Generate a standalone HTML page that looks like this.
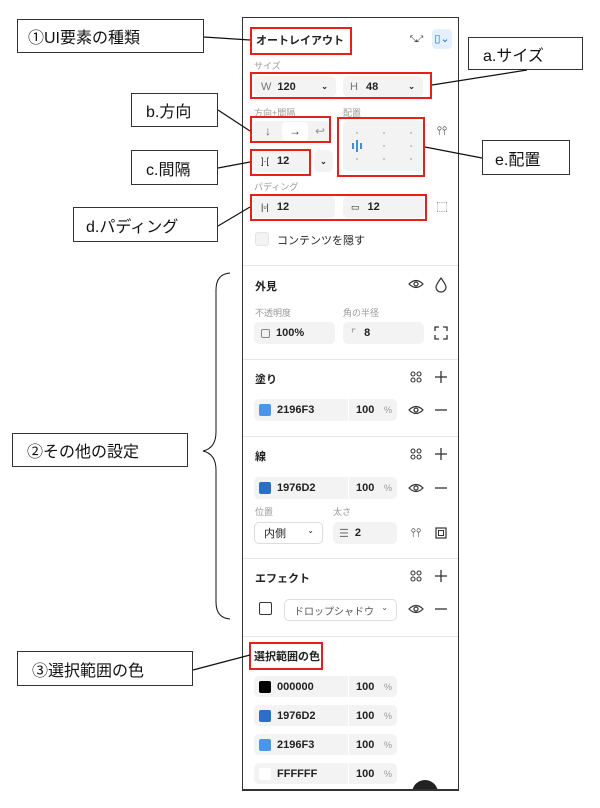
<!DOCTYPE html>
<html><head><meta charset="utf-8"><style>
*{box-sizing:border-box;margin:0;padding:0}
body{width:600px;height:808px;background:#fff;position:relative;overflow:hidden;font-family:"Liberation Sans","Noto Sans CJK JP",sans-serif;color:#222}
.a{position:absolute}
.box{position:absolute;border:1.3px solid #333;background:#fff;font-size:15px;display:flex;align-items:center;padding-left:14px;color:#111}
.red{position:absolute;border:2.5px solid #e8201a}
.f{position:absolute;background:#f3f3f3;border-radius:5px;font-size:11px;font-weight:bold;display:flex;align-items:center;color:#222}
.lb{position:absolute;font-size:9px;color:#999}
.h{position:absolute;font-size:11px;font-weight:bold}
.ic{position:absolute;font-size:14px;color:#333;transform:translate(-50%,-50%)}
.hr{position:absolute;left:243px;width:215px;height:1px;background:#e6e6e6}
.sw{position:absolute;width:12px;height:12px;border-radius:2px}
.pct{position:absolute;font-size:9px;color:#999}
.sep{position:absolute;width:1px;background:#fff}
.dd{position:absolute;height:22px;border:1px solid #ddd;border-radius:5px;font-size:11px;display:flex;align-items:center;padding-left:9px}
.dd i{position:absolute;right:8px;top:3px;font-size:8px;font-style:normal}
</style></head><body>
<div class="a" style="left:242px;top:17px;width:217px;height:774px;border:1.5px solid #333"></div>

<div class="h" style="left:256px;top:32px">オートレイアウト</div>
<div class="ic" style="left:416px;top:39px;font-size:9px;letter-spacing:-1px">⤡⤢</div>
<div class="a" style="left:432px;top:29px;width:20px;height:20px;background:#e4f0fd;border-radius:4px;color:#1976d2;font-size:11px;text-align:center;line-height:20px">▯⌄</div>

<div class="lb" style="left:254px;top:59px">サイズ</div>
<div class="f" style="left:254px;top:76px;width:82px;height:21px;padding-left:7px"><span style="color:#777;font-weight:normal;margin-right:6px">W</span>120<span style="margin-left:auto;margin-right:8px;font-size:8px">⌄</span></div>
<div class="f" style="left:343px;top:76px;width:80px;height:21px;padding-left:7px"><span style="color:#777;font-weight:normal;margin-right:8px">H</span>48<span style="margin-left:auto;margin-right:8px;font-size:8px">⌄</span></div>

<div class="lb" style="left:254px;top:106px">方向+間隔</div>
<div class="f" style="left:253px;top:121px;width:77px;height:21px"></div>
<div class="a" style="left:282px;top:122px;width:26px;height:19px;background:#fff;border-radius:4px"></div>
<div class="ic" style="left:268px;top:131px;font-size:12px;color:#666">↓</div>
<div class="ic" style="left:295px;top:131px;font-size:12px">→</div>
<div class="ic" style="left:320px;top:131px;font-size:12px;color:#999">↩</div>
<div class="f" style="left:253px;top:150px;width:57px;height:22px;padding-left:8px"><span style="font-weight:normal;margin-right:8px;font-size:9px">]·[</span>12</div>
<div class="f" style="left:314px;top:150px;width:19px;height:22px;justify-content:center;font-size:8px">⌄</div>

<div class="lb" style="left:343px;top:106px">配置</div>
<div class="f" style="left:343px;top:121px;width:82px;height:50px"></div>
<svg class="a" style="left:343px;top:121px" width="82" height="50">
<g fill="#aaa"><circle cx="14" cy="12" r="0.9"/><circle cx="41" cy="12" r="0.9"/><circle cx="68" cy="12" r="0.9"/><circle cx="41" cy="25" r="0.9"/><circle cx="68" cy="25" r="0.9"/><circle cx="14" cy="38" r="0.9"/><circle cx="41" cy="38" r="0.9"/><circle cx="68" cy="38" r="0.9"/></g>
<g stroke="#1976d2" stroke-width="1.6"><line x1="10" y1="22" x2="10" y2="28"/><line x1="14" y1="19" x2="14" y2="31"/><line x1="18" y1="22" x2="18" y2="28"/></g>
</svg>
<div class="ic" style="left:442px;top:131px;font-size:12px">⫯⫯</div>

<div class="lb" style="left:254px;top:180px">パディング</div>
<div class="f" style="left:253px;top:196px;width:82px;height:22px;padding-left:8px"><span style="font-weight:normal;margin-right:8px;font-size:9px">|▫|</span>12</div>
<div class="f" style="left:343px;top:196px;width:82px;height:22px;padding-left:8px"><span style="font-weight:normal;margin-right:8px;font-size:9px">▭</span>12</div>
<div class="ic" style="left:442px;top:207px;font-size:11px">⬚</div>

<div class="a" style="left:255px;top:232px;width:14px;height:14px;background:#f3f3f3;border-radius:3px;border:1px solid #e4e4e4"></div>
<div class="a" style="left:277px;top:232px;font-size:11px">コンテンツを隠す</div>

<svg class="a" style="left:0;top:0" width="600" height="808">
<defs><g id="d4" fill="none" stroke="#333" stroke-width="1.1"><circle cx="-3" cy="-3" r="2"/><circle cx="3" cy="-3" r="2"/><circle cx="-3" cy="3" r="2"/><circle cx="3" cy="3" r="2"/></g>
<g id="pl" stroke="#333" stroke-width="1.3"><line x1="-6" y1="0" x2="6" y2="0"/><line x1="0" y1="-6" x2="0" y2="6"/></g>
<g id="mi" stroke="#333" stroke-width="1.3"><line x1="-6" y1="0" x2="6" y2="0"/></g>
<g id="ey" fill="none" stroke="#333" stroke-width="1.2"><path d="M-7 0 Q0 -7 7 0 Q0 7 -7 0Z"/><circle r="2"/></g></defs>
<use href="#ey" x="416" y="284"/>
<path d="M441 278 Q446 285 446 287 A5 5 0 0 1 436 287 Q436 285 441 278Z" fill="none" stroke="#333" stroke-width="1.2"/>
<g fill="none" stroke="#333" stroke-width="1.3"><path d="M437 331 v-4 h4 M445 327 h4 v4 M437 335 v4 h4 M449 335 v4 h-4" transform="translate(-2,0)"/></g>
<use href="#d4" x="416" y="377"/><use href="#pl" x="441" y="377"/>
<use href="#ey" x="416" y="410"/><use href="#mi" x="441" y="410"/>
<use href="#d4" x="416" y="454"/><use href="#pl" x="441" y="454"/>
<use href="#ey" x="416" y="488"/><use href="#mi" x="441" y="488"/>
<use href="#d4" x="416" y="576"/><use href="#pl" x="441" y="576"/>
<use href="#ey" x="416" y="609"/><use href="#mi" x="441" y="609"/>
<rect x="436" y="528" width="10" height="10" fill="none" stroke="#333" stroke-width="1.2"/><rect x="438.5" y="530.5" width="5" height="5" fill="none" stroke="#333" stroke-width="1"/>
</svg>

<div class="hr" style="top:265px"></div>
<div class="h" style="left:255px;top:278px">外見</div>
<div class="lb" style="left:255px;top:306px">不透明度</div>
<div class="lb" style="left:343px;top:306px">角の半径</div>
<div class="f" style="left:254px;top:322px;width:81px;height:22px;padding-left:7px"><span style="display:inline-block;width:9px;height:9px;border:1px solid #888;border-radius:2px;margin-right:6px"></span>100%</div>
<div class="f" style="left:343px;top:322px;width:81px;height:22px;padding-left:8px"><span style="font-weight:normal;color:#888;margin-right:8px">⌜</span>8</div>

<div class="hr" style="top:359px"></div>
<div class="h" style="left:255px;top:371px">塗り</div>
<div class="f" style="left:254px;top:399px;width:143px;height:22px"></div>
<div class="sw" style="left:259px;top:404px;background:#4a96ee"></div>
<div class="a" style="left:277px;top:404px;font-size:11px;font-weight:bold">2196F3</div>
<div class="sep" style="left:348px;top:399px;height:22px"></div>
<div class="a" style="left:356px;top:404px;font-size:11px;font-weight:bold">100</div>
<div class="pct" style="left:384px;top:405px">%</div>

<div class="hr" style="top:436px"></div>
<div class="h" style="left:255px;top:448px">線</div>
<div class="f" style="left:254px;top:477px;width:143px;height:22px"></div>
<div class="sw" style="left:259px;top:482px;background:#2a6fcb"></div>
<div class="a" style="left:277px;top:482px;font-size:11px;font-weight:bold">1976D2</div>
<div class="sep" style="left:348px;top:477px;height:22px"></div>
<div class="a" style="left:356px;top:482px;font-size:11px;font-weight:bold">100</div>
<div class="pct" style="left:384px;top:483px">%</div>
<div class="lb" style="left:255px;top:505px">位置</div>
<div class="lb" style="left:333px;top:505px">太さ</div>
<div class="dd" style="left:254px;top:522px;width:69px">内側<i>⌄</i></div>
<div class="f" style="left:333px;top:522px;width:64px;height:22px;padding-left:6px"><span style="font-weight:normal;color:#777;margin-right:6px">☰</span>2</div>
<div class="ic" style="left:416px;top:533px;font-size:12px">⫯⫯</div>

<div class="hr" style="top:558px"></div>
<div class="h" style="left:255px;top:570px">エフェクト</div>
<div class="a" style="left:259px;top:602px;width:13px;height:13px;border:1.3px solid #333;border-radius:2px"></div>
<div class="dd" style="left:284px;top:599px;width:113px;font-size:10px;color:#555">ドロップシャドウ<i>⌄</i></div>

<div class="hr" style="top:636px"></div>
<div class="h" style="left:254px;top:648px">選択範囲の色</div>

<div class="f" style="left:254px;top:676px;width:143px;height:21px"></div>
<div class="sw" style="left:259px;top:681px;background:#000"></div>
<div class="a" style="left:277px;top:681px;font-size:11px;font-weight:bold">000000</div>
<div class="sep" style="left:348px;top:676px;height:21px"></div>
<div class="a" style="left:356px;top:681px;font-size:11px;font-weight:bold">100</div><div class="pct" style="left:384px;top:682px">%</div>

<div class="f" style="left:254px;top:705px;width:143px;height:21px"></div>
<div class="sw" style="left:259px;top:710px;background:#2a6fcb"></div>
<div class="a" style="left:277px;top:710px;font-size:11px;font-weight:bold">1976D2</div>
<div class="sep" style="left:348px;top:705px;height:21px"></div>
<div class="a" style="left:356px;top:710px;font-size:11px;font-weight:bold">100</div><div class="pct" style="left:384px;top:711px">%</div>

<div class="f" style="left:254px;top:734px;width:143px;height:21px"></div>
<div class="sw" style="left:259px;top:739px;background:#4a96ee"></div>
<div class="a" style="left:277px;top:739px;font-size:11px;font-weight:bold">2196F3</div>
<div class="sep" style="left:348px;top:734px;height:21px"></div>
<div class="a" style="left:356px;top:739px;font-size:11px;font-weight:bold">100</div><div class="pct" style="left:384px;top:740px">%</div>

<div class="f" style="left:254px;top:763px;width:143px;height:21px"></div>
<div class="sw" style="left:259px;top:768px;background:#fff"></div>
<div class="a" style="left:277px;top:768px;font-size:11px;font-weight:bold">FFFFFF</div>
<div class="sep" style="left:348px;top:763px;height:21px"></div>
<div class="a" style="left:356px;top:768px;font-size:11px;font-weight:bold">100</div><div class="pct" style="left:384px;top:769px">%</div>

<div class="a" style="left:412px;top:780px;width:26px;height:26px;border-radius:50%;background:#222"></div>
<div class="a" style="left:0;top:791px;width:600px;height:17px;background:#fff"></div>
<div class="a" style="left:242px;top:789px;width:217px;height:1.5px;background:#333"></div>

<div class="red" style="left:250px;top:27px;width:102px;height:28px"></div>
<div class="red" style="left:250px;top:72px;width:182px;height:27px"></div>
<div class="red" style="left:250px;top:116px;width:81px;height:27px"></div>
<div class="red" style="left:250px;top:149px;width:61px;height:27px"></div>
<div class="red" style="left:337px;top:117px;width:88px;height:60px"></div>
<div class="red" style="left:250px;top:194px;width:177px;height:27px"></div>
<div class="red" style="left:249px;top:642px;width:74px;height:28px"></div>

<svg class="a" style="left:0;top:0" width="600" height="808">
<g stroke="#111" stroke-width="1.2" fill="none">
<line x1="204" y1="37" x2="250" y2="40"/>
<line x1="218" y1="110" x2="250" y2="131"/>
<line x1="218" y1="168" x2="250" y2="162"/>
<line x1="218" y1="226" x2="250" y2="207"/>
<line x1="193" y1="670" x2="250" y2="655"/>
<line x1="432" y1="85" x2="527" y2="70"/>
<line x1="425" y1="147" x2="482" y2="158"/>
<path d="M230 273 Q216 274 216 290 L216 432 Q216 448 203 451 Q216 454 216 470 L216 602 Q216 618 230 619" stroke-width="1"/>
</g>
</svg>

<div class="box" style="left:17px;top:19px;width:187px;height:34px;font-size:16px;padding-left:10px">①UI要素の種類</div>
<div class="box" style="left:131px;top:93px;width:87px;height:34px;font-size:16px">b.方向</div>
<div class="box" style="left:131px;top:150px;width:87px;height:35px;font-size:16px">c.間隔</div>
<div class="box" style="left:73px;top:207px;width:145px;height:35px;font-size:16px;padding-left:12px">d.パディング</div>
<div class="box" style="left:12px;top:433px;width:176px;height:34px;font-size:16px">②その他の設定</div>
<div class="box" style="left:17px;top:651px;width:176px;height:35px;font-size:16px">③選択範囲の色</div>
<div class="box" style="left:468px;top:37px;width:115px;height:33px;font-size:16px">a.サイズ</div>
<div class="box" style="left:482px;top:140px;width:88px;height:35px;font-size:16px;padding-left:12px">e.配置</div>
</body></html>
